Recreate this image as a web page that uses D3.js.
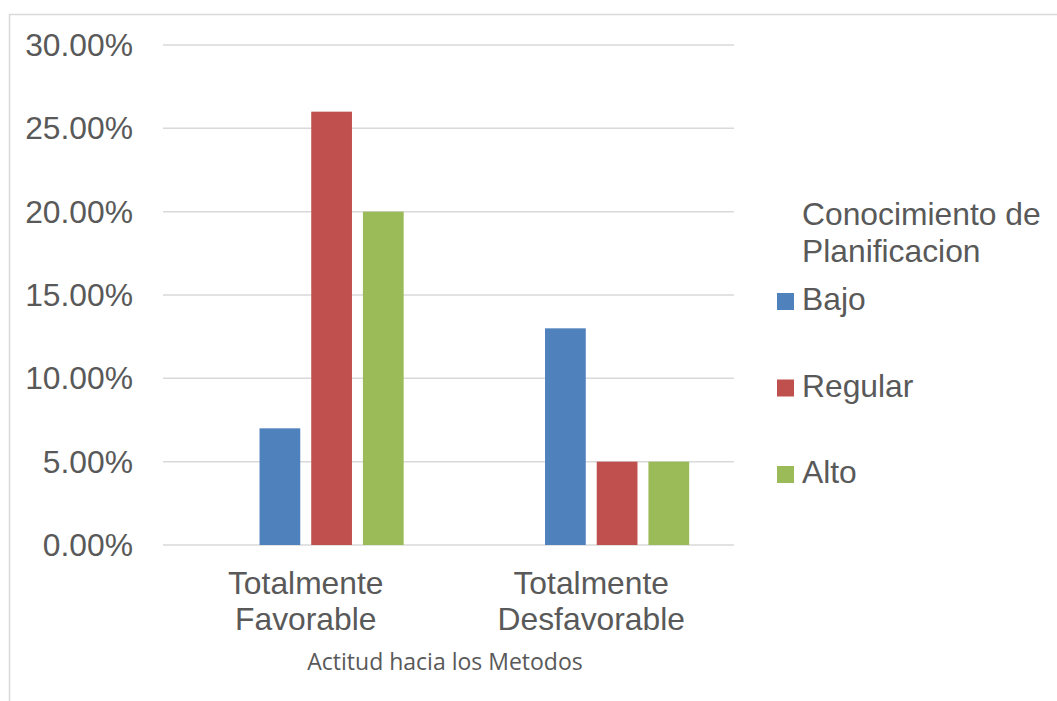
<!DOCTYPE html>
<html>
<head>
<meta charset="utf-8">
<script src="https://cdn.jsdelivr.net/npm/d3@7"></script>
<style>
  body { margin: 0; background: #ffffff; }
  text { font-family: "Liberation Sans", Arial, sans-serif; fill: #595959; }
</style>
</head>
<body>
<script>
/* DATA */
var categories = ['Totalmente Favorable', 'Totalmente Desfavorable'];
var series = ['Bajo', 'Regular', 'Alto'];
// the original chart keeps an empty first series, so each group has 4 slots
var slots = ['', 'Bajo', 'Regular', 'Alto'];
var bajoValues = [7, 13];
var regularValues = [26, 5];
var altoValues = [20, 5];
var yTicks = [0, 5, 10, 15, 20, 25, 30];

var legendTitle = ['Conocimiento de', 'Planificacion'];
var xTitle = 'Actitud hacia los Metodos';

var seriesColors = { Bajo: '#4f81bd', Regular: '#c0504d', Alto: '#9bbb59' };
var seriesValues = { Bajo: bajoValues, Regular: regularValues, Alto: altoValues };

/* SIZES */
var width = 1057;
var height = 701;
var plotLeft = 163;
var plotRight = 734;
var plotTop = 45;
var plotBottom = 545;
var gridColor = '#d9d9d9';
var bigFont = '31.8px';

var svg = d3.select('body').append('svg')
    .attr('width', width)
    .attr('height', height);

// chart border (only top and left show in the picture)
svg.append('path')
    .attr('d', `M9.5,${height} V14.5 H${width}`)
    .attr('fill', 'none')
    .attr('stroke', gridColor)
    .attr('stroke-width', 1.5);

const x0 = d3.scaleBand()
    .domain(categories)
    .range([plotLeft, plotRight])
    .paddingInner(0.314)
    .paddingOuter(0.157);

const x1 = d3.scaleBand()
    .domain(slots)
    .range([0, x0.bandwidth()])
    .paddingInner(0.212)
    .paddingOuter(0);

const y = d3.scaleLinear()
    .domain([0, 30])
    .range([plotBottom, plotTop]);

// gridlines
svg.append('g')
    .selectAll('line')
    .data(yTicks)
    .join('line')
    .attr('x1', plotLeft)
    .attr('x2', plotRight)
    .attr('y1', d => y(d))
    .attr('y2', d => y(d))
    .attr('stroke', gridColor)
    .attr('stroke-width', 1.5);

// y tick labels
svg.append('g')
    .selectAll('text')
    .data(yTicks)
    .join('text')
    .attr('x', 133)
    .attr('y', d => y(d))
    .attr('dy', '0.35em')
    .attr('text-anchor', 'end')
    .style('font-size', bigFont)
    .text(d => d3.format('.2f')(d) + '%');

// bars
const groups = svg.append('g')
    .selectAll('g')
    .data(categories)
    .join('g')
    .attr('transform', d => `translate(${x0(d)},0)`);

groups.selectAll('rect')
    .data((d, i) => series.map(s => ({ key: s, value: seriesValues[s][i] })))
    .join('rect')
    .attr('x', d => x1(d.key))
    .attr('width', x1.bandwidth())
    .attr('y', d => y(d.value))
    .attr('height', d => y(0) - y(d.value))
    .attr('fill', d => seriesColors[d.key]);

// category labels, two lines each
const catLabels = svg.append('g')
    .selectAll('text')
    .data(categories)
    .join('text')
    .attr('text-anchor', 'middle')
    .style('font-size', bigFont);

catLabels.selectAll('tspan')
    .data(d => d.split(' '))
    .join('tspan')
    .attr('x', function () { const c = d3.select(this.parentNode).datum(); return x0(c) + x0.bandwidth() / 2; })
    .attr('y', (d, i) => 594 + i * 36)
    .text(d => d);

// axis title
svg.append('text')
    .attr('x', 445)
    .attr('y', 670)
    .attr('text-anchor', 'middle')
    .style('font-family', '"Open Sans", Lato, sans-serif')
    .style('font-size', '23px')
    .text(xTitle);

// legend
const legend = svg.append('g');

legend.selectAll('text.title')
    .data(legendTitle)
    .join('text')
    .attr('class', 'title')
    .attr('x', 802)
    .attr('y', (d, i) => 225 + i * 37)
    .style('font-size', bigFont)
    .text(d => d);

const legendItems = legend.selectAll('g')
    .data(series)
    .join('g')
    .attr('transform', (d, i) => `translate(0, ${310 + i * 86.5})`);

legendItems.append('rect')
    .attr('x', 777)
    .attr('y', -17)
    .attr('width', 17)
    .attr('height', 17)
    .attr('fill', d => seriesColors[d]);

legendItems.append('text')
    .attr('x', 802)
    .attr('y', 0)
    .style('font-size', bigFont)
    .text(d => d);
</script>
</body>
</html>
